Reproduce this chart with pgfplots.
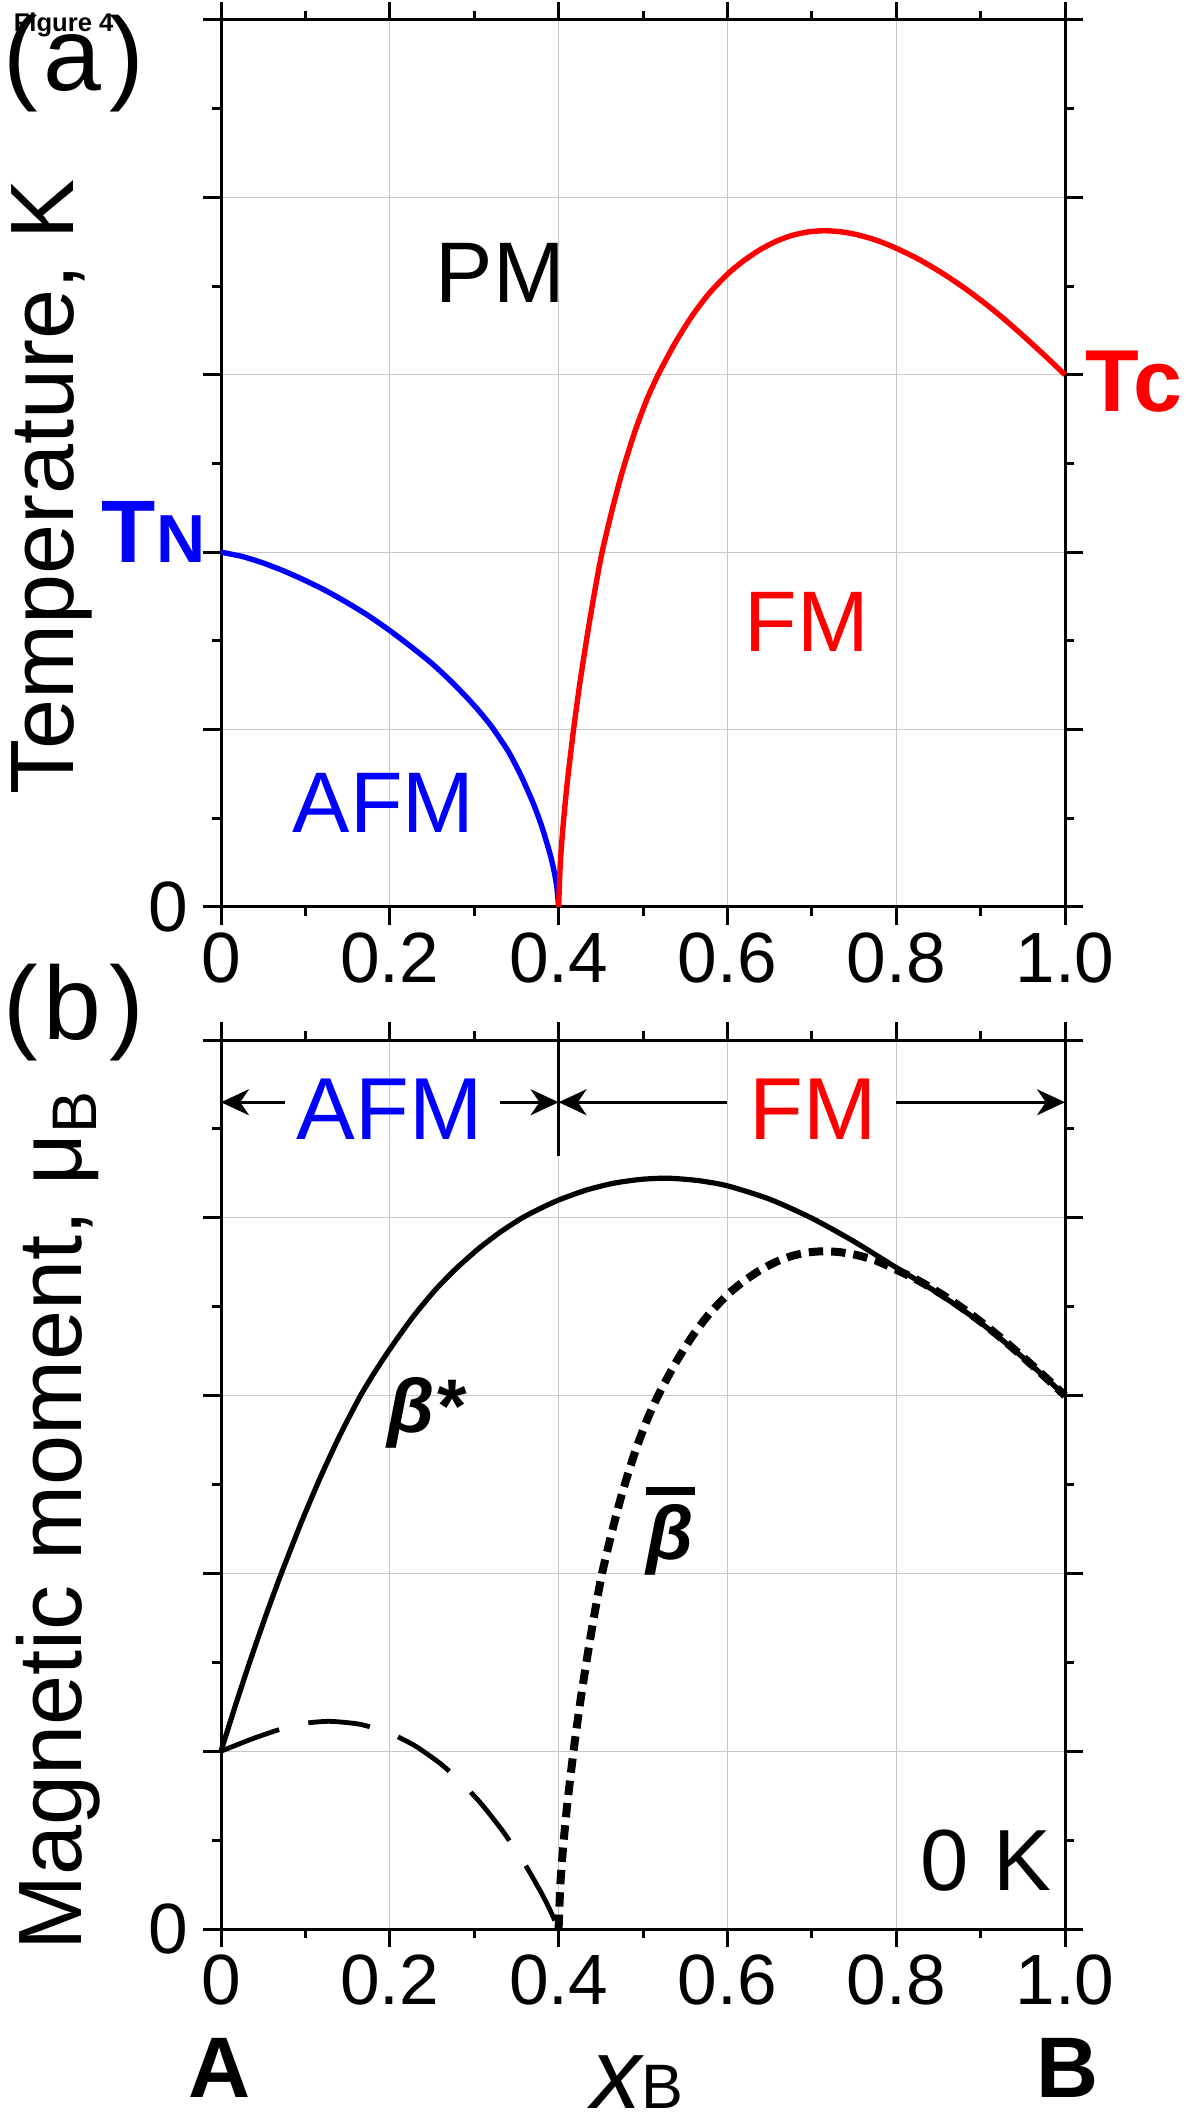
\documentclass[border=0pt]{standalone}
\usepackage{fontspec}
\setmainfont{Liberation Sans}
\usepackage{pgfplots}
\pgfplotsset{compat=1.18}
\usetikzlibrary{arrows.meta}
\definecolor{gridgray}{RGB}{200,200,200}
\definecolor{pblue}{RGB}{0,0,255}
\definecolor{pred}{RGB}{255,0,0}

\pgfplotsset{
  panel/.style={
    scale only axis, width=211pt,
    xmin=0,xmax=1,ymin=0,ymax=5,
    xtick={0,0.2,0.4,0.6,0.8,1.0},
    xticklabels={0,0.2,0.4,0.6,0.8,1.0},
    ytick={0,1,2,3,4,5},
    yticklabels={0,{},{},{},{},{}},
    minor x tick num=1, minor y tick num=1,
    tick align=outside,
    xticklabel pos=left, yticklabel pos=left,
    xtick pos=both, ytick pos=both,
    major tick length=4.5pt, minor tick length=2.3pt,
    every tick/.style={black, line width=0.75pt},
    axis line style={line width=0.75pt},
    grid=major, major grid style={gridgray, line width=0.3pt},
    tick label style={font=\fontsize{17.8}{20}\selectfont},
    xticklabel style={inner sep=0pt, anchor=north, yshift=-1.75pt},
    yticklabel style={inner sep=0pt, anchor=east, xshift=-3.5pt},
    clip=false,
  }
}

\pgfplotstableread{
x v
0 2.0
0.025 1.976
0.05 1.939
0.075 1.893
0.1 1.840
0.125 1.781
0.15 1.714
0.175 1.641
0.2 1.558
0.225 1.468
0.25 1.372
0.275 1.261
0.3 1.136
0.32 1.021
0.34 0.88
0.355 0.745
0.37 0.584
0.38 0.455
0.39 0.297
0.395 0.194
0.398 0.11
0.4 0
}\neel

\pgfplotstableread{
x v
0.4 0
0.402 0.243
0.405 0.44
0.41 0.69
0.4177 1.0
0.426 1.288
0.4356 1.579
0.4435 1.798
0.4515 2.0
0.463 2.23
0.475 2.446
0.49 2.675
0.5045 2.86
0.5179 3.0
0.538 3.179
0.558 3.331
0.578 3.457
0.6 3.567
0.619 3.642
0.638 3.703
0.657 3.751
0.676 3.785
0.695 3.805
0.714 3.812
0.733 3.807
0.7526 3.791
0.775 3.761
0.797 3.72
0.826 3.653
0.8546 3.573
0.88 3.492
0.9056 3.401
0.928 3.314
0.95 3.222
0.975 3.113
1.0 3.0
}\curie

\pgfplotstableread{
x v
0 1.0
0.018 1.271
0.0357 1.525
0.0536 1.769
0.0714 1.999
0.095 2.285
0.118 2.543
0.141 2.778
0.1645 2.993
0.182 3.131
0.2 3.261
0.227 3.440
0.254 3.595
0.2785 3.714
0.305 3.826
0.331 3.920
0.357 4.0
0.3785 4.053
0.4 4.10
0.432 4.155
0.4645 4.194
0.497 4.216
0.529 4.223
0.5645 4.21
0.6 4.18
0.65 4.105
0.7 3.998
0.75 3.867
0.8 3.72
0.85 3.575
0.9 3.41
0.95 3.215
1.0 3.0
}\betastar

\pgfplotstableread{
x v
0 1.0
0.035 1.066
0.07 1.123
0.1 1.157
0.129 1.168
0.165 1.151
0.2 1.101
0.23 1.030
0.26 0.930
0.285 0.824
0.31 0.695
0.335 0.543
0.36 0.365
0.38 0.199
0.39 0.105
0.4 0
}\afmmom

\pgfplotstableread{
x v
0.4 0
0.402 0.243
0.405 0.44
0.41 0.69
0.4177 1.0
0.426 1.288
0.4356 1.579
0.4435 1.798
0.4515 2.0
0.463 2.23
0.475 2.446
0.49 2.675
0.5045 2.86
0.5179 3.0
0.538 3.179
0.558 3.331
0.578 3.457
0.6 3.567
0.619 3.642
0.638 3.703
0.657 3.751
0.676 3.785
0.695 3.805
0.714 3.812
0.733 3.807
0.7526 3.791
0.775 3.761
0.797 3.715
0.826 3.648
0.8546 3.568
0.88 3.487
0.9056 3.396
0.928 3.309
0.95 3.218
0.975 3.111
1.0 3.0
}\betabar

\begin{document}
\begin{tikzpicture}
\path[use as bounding box] (0,0) rectangle (298.5pt,528pt);

% ---------------- panel (a)
\begin{axis}[panel, height=221.75pt, at={(55.25pt,301.25pt)}, anchor=south west]
\addplot[pblue, line width=1.35pt, smooth, tension=0.4] table[x=x,y=v] {\neel};
\addplot[pred, line width=1.35pt, smooth, tension=0.4] table[x=x,y=v] {\curie};
\end{axis}

% ---------------- panel (b)
\begin{axis}[panel, height=222.25pt, at={(55.25pt,45.75pt)}, anchor=south west]
\addplot[black, line width=1.3pt, smooth, tension=0.4] table[x=x,y=v] {\betastar};
\addplot[black, line width=1.2pt, smooth, tension=0.4, dash pattern=on 15.5pt off 7.5pt] table[x=x,y=v] {\afmmom};
\addplot[black, line width=2pt, smooth, tension=0.4, dash pattern=on 3.6pt off 2pt] table[x=x,y=v] {\betabar};
% region markers
\draw[line width=0.75pt] (axis cs:0.4,5) -- (axis cs:0.4,4.35);
\draw[line width=0.75pt, -{Stealth[length=7pt,width=6.5pt,inset=2.2pt]}] (axis cs:0.076,4.65) -- (axis cs:0,4.65);
\draw[line width=0.75pt, -{Stealth[length=7pt,width=6.5pt,inset=2.2pt]}] (axis cs:0.33,4.65) -- (axis cs:0.4,4.65);
\draw[line width=0.75pt, -{Stealth[length=7pt,width=6.5pt,inset=2.2pt]}] (axis cs:0.60,4.65) -- (axis cs:0.4,4.65);
\draw[line width=0.75pt, -{Stealth[length=7pt,width=6.5pt,inset=2.2pt]}] (axis cs:0.80,4.65) -- (axis cs:1.0,4.65);
\draw[line width=2pt] (axis cs:0.5036,2.463) -- (axis cs:0.5616,2.463);
\end{axis}

% ---------------- texts
\node[anchor=base west, inner sep=0, font=\fontsize{6.4}{7}\selectfont\bfseries] at (3.25pt,520pt) {Figure 4};
\node[anchor=base west, inner sep=0, font=\fontsize{26}{30}\selectfont] at (0.75pt,505.25pt) {(\kern1.2pt a\kern2pt)};
\node[anchor=base west, inner sep=0, font=\fontsize{26}{30}\selectfont] at (0.75pt,268pt) {(\kern1.2pt b\kern2pt)};
\node[rotate=90, anchor=base, inner sep=0, font=\fontsize{22.5}{26}\selectfont] at (18.25pt,406.25pt) {Temperature, K};
\node[rotate=90, anchor=base, inner sep=0, font=\fontsize{22.5}{26}\selectfont] at (20.5pt,148.1pt) {Magnetic moment, μ\textsubscript{B}};

\node[anchor=base east, inner sep=0, text=pblue, font=\fontsize{22.2}{26}\selectfont\bfseries] at (51.5pt,387.25pt) {T{\fontsize{17}{20}\selectfont N}};
\node[anchor=base west, inner sep=0, text=pred, font=\fontsize{22}{26}\selectfont\bfseries] at (271.25pt,425pt) {Tc};
\node[anchor=base, inner sep=0, font=\fontsize{21.5}{26}\selectfont] at (125.1pt,452.25pt) {PM};
\node[anchor=base, inner sep=0, text=pred, font=\fontsize{21.5}{26}\selectfont] at (201.75pt,365pt) {FM};
\node[anchor=base, inner sep=0, text=pblue, font=\fontsize{21.5}{26}\selectfont] at (95.9pt,319.75pt) {AFM};

\node[anchor=base, inner sep=0, text=pblue, font=\fontsize{22}{26}\selectfont] at (97.4pt,243pt) {AFM};
\node[anchor=base, inner sep=0, text=pred, font=\fontsize{22}{26}\selectfont] at (203.25pt,243pt) {FM};
\node[anchor=center, inner sep=0, font=\fontsize{19}{22}\selectfont\bfseries\itshape] at (106.5pt,174.75pt) {β*};
\node[anchor=center, inner sep=0, font=\fontsize{19}{22}\selectfont\bfseries\itshape] at (167.5pt,143pt) {β};
\node[anchor=base east, inner sep=0, font=\fontsize{21.7}{26}\selectfont] at (263pt,55.25pt) {0 K};

\node[anchor=base, inner sep=0, font=\fontsize{21.5}{26}\selectfont\bfseries] at (55pt,3.75pt) {A};
\node[anchor=base, inner sep=0, font=\fontsize{21.5}{26}\selectfont\bfseries] at (267pt,3.75pt) {B};
\node[anchor=base, inner sep=0] at (159.25pt,1pt) {{\fontsize{25}{28}\selectfont\itshape x}{\fontsize{15.7}{18}\selectfont B}};
\end{tikzpicture}
\end{document}
